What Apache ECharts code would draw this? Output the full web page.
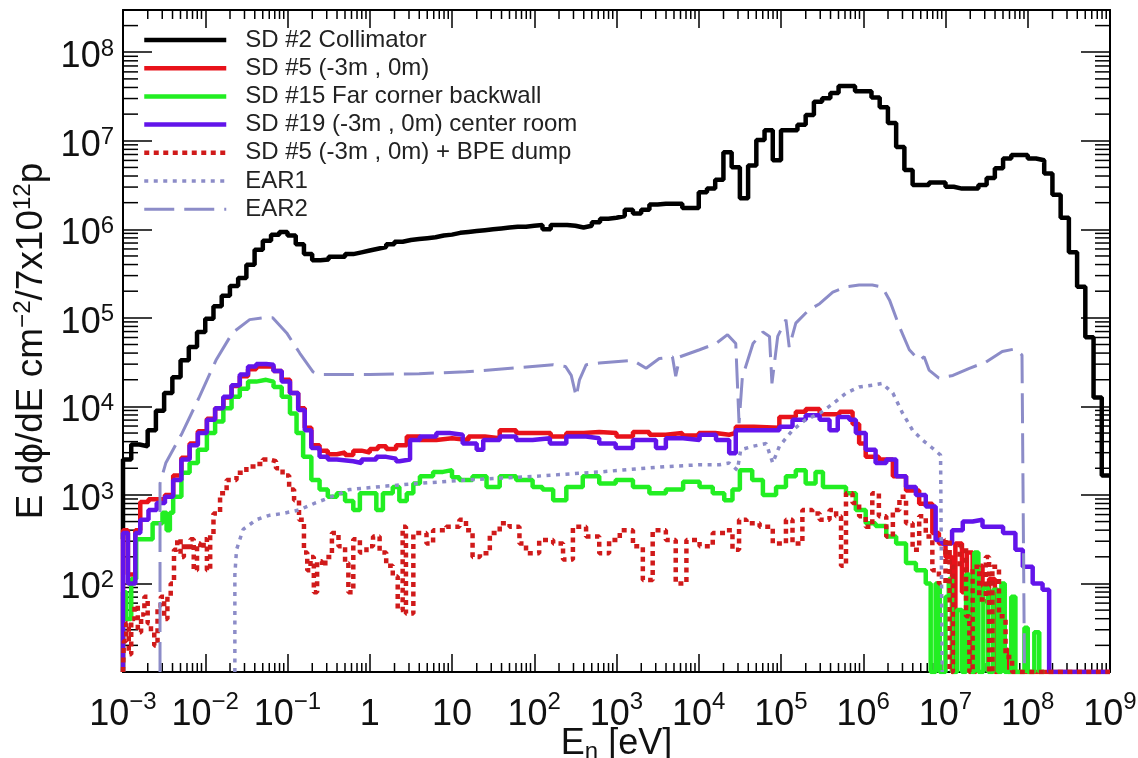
<!DOCTYPE html>
<html>
<head>
<meta charset="utf-8">
<script src="https://cdn.jsdelivr.net/npm/echarts@6/dist/echarts.min.js"></script>
<style>
  html, body { margin: 0; padding: 0; background: #fff; }
  #chart { width: 1138px; height: 758px; }
</style>
</head>
<body>
<div id="chart"></div>
<script>
// every point is [log10(E / eV), log10(flux)]
// histograms are drawn as steps starting at the bin's lower edge

const sd2Collimator = [
  [-3.0,2.50],[-3.0,3.40],[-2.9,3.57],[-2.8,3.55],[-2.7,3.73],[-2.6,3.95],[-2.5,4.15],[-2.4,4.33],
  [-2.3,4.52],[-2.2,4.67],[-2.1,4.84],[-2.0,4.99],[-1.9,5.13],[-1.8,5.25],[-1.7,5.36],[-1.6,5.45],
  [-1.5,5.60],[-1.4,5.77],[-1.3,5.87],[-1.2,5.94],[-1.1,5.97],[-1.0,5.93],[-0.9,5.83],[-0.8,5.72],
  [-0.7,5.65],[-0.6,5.66],[-0.5,5.69],[-0.4,5.69],[-0.3,5.72],[-0.2,5.74],[-0.1,5.76],[0.0,5.78],
  [0.1,5.80],[0.2,5.83],[0.3,5.86],[0.4,5.88],[0.5,5.89],[0.6,5.90],[0.7,5.91],[0.8,5.93],
  [0.9,5.94],[1.0,5.96],[1.1,5.97],[1.2,5.98],[1.3,5.99],[1.4,6.00],[1.5,6.01],[1.6,6.02],
  [1.7,6.03],[1.8,6.03],[1.9,6.04],[2.0,6.05],[2.1,6.00],[2.2,6.05],[2.3,6.05],[2.4,6.04],
  [2.5,6.02],[2.6,6.04],[2.7,6.08],[2.8,6.12],[2.9,6.13],[3.0,6.15],[3.1,6.22],[3.2,6.18],
  [3.3,6.22],[3.4,6.28],[3.5,6.29],[3.6,6.29],[3.7,6.29],[3.8,6.24],[3.9,6.24],[4.0,6.42],
  [4.1,6.46],[4.2,6.56],[4.3,6.87],[4.4,6.70],[4.5,6.35],[4.6,6.72],[4.7,7.01],[4.8,7.12],
  [4.9,6.78],[5.0,7.12],[5.1,7.12],[5.2,7.18],[5.3,7.29],[5.4,7.44],[5.5,7.48],[5.6,7.54],
  [5.7,7.62],[5.8,7.62],[5.9,7.56],[6.0,7.56],[6.1,7.49],[6.2,7.38],[6.3,7.20],[6.4,6.93],
  [6.5,6.67],[6.6,6.50],[6.7,6.50],[6.8,6.53],[6.9,6.53],[7.0,6.48],[7.1,6.46],[7.2,6.46],
  [7.3,6.46],[7.4,6.50],[7.5,6.58],[7.6,6.69],[7.7,6.80],[7.8,6.84],[7.9,6.84],[8.0,6.80],
  [8.1,6.78],[8.2,6.63],[8.3,6.39],[8.4,6.13],[8.5,5.74],[8.6,5.35],[8.7,4.78],[8.8,4.10],
  [8.9,3.22],[9.0,3.22]
];

const sd5 = [
  [-3.0,1.0],[-3.0,2.60],[-2.94,2.10],[-2.85,2.60],[-2.79,2.92],[-2.69,2.95],[-2.59,2.95],[-2.49,3.00],
  [-2.39,3.22],[-2.29,3.42],[-2.19,3.58],[-2.09,3.72],[-1.98,3.86],[-1.88,3.98],[-1.78,4.10],[-1.68,4.23],
  [-1.58,4.34],[-1.48,4.42],[-1.38,4.45],[-1.26,4.45],[-1.17,4.40],[-1.07,4.30],[-0.97,4.15],[-0.87,3.98],
  [-0.79,3.76],[-0.71,3.56],[-0.61,3.50],[-0.51,3.46],[-0.40,3.48],[-0.30,3.45],[-0.20,3.50],[-0.10,3.48],
  [0.0,3.52],[0.10,3.55],[0.20,3.52],[0.32,3.56],[0.45,3.66],[0.61,3.62],[0.81,3.64],[1.0,3.62],
  [1.2,3.66],[1.4,3.64],[1.58,3.73],[1.78,3.70],[2.0,3.70],[2.2,3.66],[2.39,3.70],[2.6,3.71],
  [2.79,3.70],[3.0,3.66],[3.2,3.71],[3.4,3.68],[3.6,3.70],[3.8,3.67],[4.0,3.70],[4.2,3.68],
  [4.37,3.70],[4.45,3.77],[4.67,3.76],[4.98,3.88],[5.18,3.94],[5.30,3.97],[5.47,3.91],[5.71,3.94],
  [5.87,3.80],[5.95,3.58],[6.03,3.43],[6.19,3.40],[6.36,3.21],[6.52,3.05],[6.68,2.90],[6.84,2.57],
  [6.92,2.45],[7.00,2.30],[7.08,1.0],[7.12,2.45],[7.20,1.90],[7.26,2.35],[7.33,1.0],[7.37,2.20],
  [7.45,1.80],[7.53,2.05],[7.60,1.0],[7.64,1.60],[7.72,1.25],[7.76,1.0],[9.0,1.0]
];

const sd15 = [
  [-3.0,1.0],[-3.0,1.90],[-2.96,1.60],[-2.90,2.05],[-2.84,2.50],[-2.64,2.68],[-2.52,2.80],[-2.47,2.60],
  [-2.43,2.80],[-2.39,2.98],[-2.29,3.25],[-2.19,3.36],[-2.09,3.51],[-1.98,3.70],[-1.88,3.83],[-1.78,3.98],
  [-1.68,4.11],[-1.58,4.20],[-1.48,4.28],[-1.38,4.30],[-1.26,4.28],[-1.17,4.22],[-1.07,4.11],[-0.97,3.92],
  [-0.89,3.70],[-0.81,3.43],[-0.71,3.17],[-0.61,3.06],[-0.51,2.98],[-0.40,3.02],[-0.30,2.93],[-0.20,2.83],
  [-0.12,3.02],[0.0,3.02],[0.08,2.83],[0.16,3.02],[0.28,3.09],[0.36,2.93],[0.45,3.02],[0.53,3.13],
  [0.61,3.21],[0.77,3.26],[0.89,3.28],[1.0,3.20],[1.09,3.17],[1.25,3.21],[1.42,3.09],[1.58,3.21],
  [1.78,3.17],[1.98,3.09],[2.10,3.06],[2.23,2.94],[2.39,3.09],[2.59,3.21],[2.79,3.13],[2.99,3.17],
  [3.20,3.09],[3.40,3.02],[3.60,3.06],[3.81,3.15],[4.01,3.09],[4.17,3.02],[4.31,2.94],[4.41,3.06],
  [4.50,3.28],[4.65,3.17],[4.78,3.00],[4.94,3.09],[5.06,3.21],[5.18,3.28],[5.30,3.13],[5.42,3.26],
  [5.51,3.09],[5.63,3.09],[5.79,3.02],[5.91,2.83],[6.03,2.68],[6.15,2.65],[6.28,2.53],[6.40,2.45],
  [6.52,2.23],[6.64,2.15],[6.76,2.00],[6.82,1.0],[6.88,2.00],[6.93,1.0],[7.00,1.85],[7.04,2.05],
  [7.08,1.0],[7.14,1.70],[7.20,1.0],[7.25,2.10],[7.29,1.0],[7.35,2.35],[7.40,1.0],[7.46,1.95],
  [7.52,1.0],[7.58,1.93],[7.64,1.0],[7.68,2.00],[7.72,1.0],[7.80,1.85],[7.85,1.0],[7.96,1.50],
  [8.00,1.0],[8.08,1.45],[8.14,1.0],[8.20,1.0]
];

const sd19 = [
  [-3.0,1.0],[-3.0,2.57],[-2.94,2.00],[-2.85,2.57],[-2.79,2.72],[-2.69,2.83],[-2.59,2.91],[-2.49,2.98],
  [-2.39,3.17],[-2.29,3.40],[-2.19,3.56],[-2.09,3.70],[-1.98,3.85],[-1.88,3.98],[-1.78,4.11],[-1.68,4.24],
  [-1.58,4.36],[-1.48,4.45],[-1.38,4.48],[-1.26,4.47],[-1.17,4.40],[-1.07,4.28],[-0.97,4.15],[-0.87,3.96],
  [-0.79,3.73],[-0.71,3.53],[-0.61,3.43],[-0.51,3.40],[-0.40,3.38],[-0.20,3.36],[-0.10,3.40],[0.08,3.43],
  [0.20,3.41],[0.32,3.38],[0.36,3.40],[0.49,3.62],[0.61,3.66],[0.81,3.70],[0.97,3.68],[1.13,3.58],
  [1.30,3.51],[1.38,3.62],[1.58,3.66],[1.78,3.62],[1.98,3.64],[2.19,3.58],[2.39,3.66],[2.63,3.64],
  [2.79,3.58],[2.99,3.53],[3.20,3.62],[3.36,3.62],[3.48,3.53],[3.60,3.64],[3.81,3.62],[4.01,3.68],
  [4.21,3.62],[4.37,3.47],[4.45,3.73],[4.98,3.77],[5.14,3.85],[5.30,3.90],[5.47,3.85],[5.59,3.73],
  [5.69,3.88],[5.83,3.85],[5.91,3.70],[6.03,3.51],[6.15,3.36],[6.28,3.40],[6.40,3.21],[6.52,3.09],
  [6.64,3.00],[6.76,2.87],[6.88,2.49],[6.96,2.45],[7.08,2.60],[7.21,2.70],[7.33,2.72],[7.45,2.64],
  [7.61,2.64],[7.70,2.57],[7.85,2.38],[7.94,2.19],[8.06,2.00],[8.18,1.93],[8.26,1.0],[9.0,1.0]
];

const sd5Bpe = [
  [-3.0,1.0],[-2.99,1.35],[-2.96,1.55],[-2.93,1.20],[-2.90,1.60],[-2.86,1.75],[-2.82,1.45],[-2.78,1.65],
  [-2.74,1.85],[-2.70,1.55],[-2.66,1.45],[-2.62,1.30],[-2.58,1.75],[-2.54,1.85],[-2.50,1.60],[-2.46,1.85],
  [-2.42,2.00],[-2.38,2.38],[-2.34,2.50],[-2.30,2.30],[-2.26,2.45],[-2.22,2.38],[-2.18,2.50],[-2.14,2.15],
  [-2.10,2.45],[-2.06,2.40],[-2.02,2.50],[-1.98,2.15],[-1.94,2.55],[-1.90,2.79],[-1.82,3.02],[-1.74,3.17],
  [-1.62,3.25],[-1.50,3.32],[-1.38,3.35],[-1.30,3.40],[-1.22,3.38],[-1.14,3.30],[-1.06,3.22],[-0.98,3.06],
  [-0.92,2.94],[-0.86,2.72],[-0.80,2.35],[-0.76,2.15],[-0.72,2.30],[-0.68,1.90],[-0.64,2.25],[-0.58,2.20],
  [-0.54,2.30],[-0.46,2.57],[-0.38,2.42],[-0.30,2.23],[-0.26,1.90],[-0.20,2.50],[-0.12,2.35],[-0.04,2.42],
  [0.04,2.53],[0.12,2.35],[0.20,2.20],[0.28,2.08],[0.34,1.70],[0.40,2.64],[0.44,1.66],[0.53,2.57],
  [0.69,2.45],[0.77,2.60],[0.93,2.64],[1.09,2.72],[1.17,2.60],[1.25,2.30],[1.34,2.34],[1.46,2.57],
  [1.58,2.68],[1.70,2.64],[1.82,2.45],[1.90,2.34],[2.06,2.49],[2.23,2.45],[2.35,2.27],[2.47,2.64],
  [2.63,2.53],[2.79,2.34],[2.91,2.49],[3.04,2.60],[3.20,2.42],[3.32,2.04],[3.44,2.60],[3.60,2.49],
  [3.72,2.00],[3.85,2.49],[4.01,2.42],[4.17,2.57],[4.33,2.60],[4.41,2.38],[4.49,2.72],[4.58,2.68],
  [4.74,2.64],[4.90,2.45],[5.06,2.72],[5.14,2.45],[5.26,2.83],[5.38,2.79],[5.47,2.72],[5.59,2.83],
  [5.67,2.76],[5.73,2.20],[5.79,3.02],[5.87,2.91],[5.95,2.76],[6.03,2.64],[6.11,3.02],[6.19,2.76],
  [6.28,2.53],[6.36,2.83],[6.44,2.98],[6.52,2.68],[6.60,2.38],[6.68,2.76],[6.76,2.53],[6.84,2.15],
  [6.92,2.00],[7.00,2.49],[7.05,1.0],[7.09,2.19],[7.17,2.42],[7.25,1.63],[7.29,1.0],[7.33,2.19],
  [7.41,1.82],[7.49,2.30],[7.53,1.0],[7.57,2.19],[7.65,1.63],[7.73,1.17],[7.81,1.0],[9.0,1.0]
];

const ear1 = [
  [-1.64,1.0],[-1.64,2.10],[-1.62,2.38],[-1.54,2.61],[-1.38,2.72],[-1.22,2.77],[-1.06,2.79],[-0.86,2.83],
  [-0.66,2.91],[-0.46,2.98],[-0.25,3.06],[0.2,3.10],[0.6,3.13],[1.2,3.17],[2.0,3.21],[2.8,3.26],
  [3.6,3.32],[4.0,3.34],[4.25,3.34],[4.37,3.36],[4.47,3.28],[4.51,3.51],[4.66,3.55],[4.82,3.58],
  [4.90,3.36],[4.98,3.55],[5.14,3.73],[5.30,3.85],[5.47,3.92],[5.63,4.03],[5.79,4.15],[5.95,4.22],
  [6.11,4.24],[6.23,4.26],[6.36,4.15],[6.48,3.92],[6.60,3.73],[6.72,3.62],[6.84,3.53],[6.94,3.45],
  [6.96,1.0]
];

const ear2 = [
  [-2.55,1.0],[-2.55,3.13],[-2.48,3.36],[-2.28,3.70],[-2.07,4.11],[-1.87,4.52],[-1.67,4.83],[-1.46,4.98],
  [-1.30,5.00],[-1.18,5.00],[-1.01,4.83],[-0.85,4.60],[-0.69,4.39],[-0.61,4.36],[0.0,4.36],[0.6,4.37],
  [1.17,4.39],[2.23,4.47],[2.38,4.45],[2.45,4.35],[2.51,4.11],[2.55,4.30],[2.63,4.47],[2.79,4.49],
  [3.20,4.52],[3.36,4.43],[3.52,4.54],[3.68,4.56],[3.72,4.34],[3.77,4.56],[4.01,4.64],[4.21,4.71],
  [4.35,4.81],[4.45,4.71],[4.49,3.81],[4.53,4.33],[4.66,4.71],[4.78,4.84],[4.86,4.79],[4.89,4.26],
  [4.96,4.79],[5.06,4.98],[5.10,4.67],[5.18,4.94],[5.34,5.09],[5.47,5.16],[5.63,5.29],[5.79,5.35],
  [5.95,5.37],[6.11,5.37],[6.23,5.35],[6.32,5.20],[6.44,4.90],[6.56,4.64],[6.68,4.52],[6.74,4.56],
  [6.80,4.41],[6.92,4.32],[7.09,4.35],[7.29,4.43],[7.49,4.50],[7.69,4.62],[7.85,4.65],[7.93,4.58],
  [7.96,1.0]
];

const seriesNames = [
  'SD #2 Collimator',
  'SD #5 (-3m , 0m)',
  'SD #15 Far corner backwall',
  'SD #19 (-3m , 0m) center room',
  'SD #5 (-3m , 0m) + BPE dump',
  'EAR1',
  'EAR2'
];

const xMin = 1e-3, xMax = 1e9;
const yMin = 10, yMax = 3e8;
const minorMantissas = [2, 3, 4, 5, 6, 7, 8, 9];
const xDecades = [-3, -2, -1, 0, 1, 2, 3, 4, 5, 6, 7, 8];
const yDecades = [1, 2, 3, 4, 5, 6, 7, 8];

const FONT = '"Liberation Sans", Arial, Helvetica, sans-serif';

// line looks, shared by the series and their legend entries
const looks = [
  { color: '#000000', width: 4.5, type: 'solid' },
  { color: '#e8121a', width: 4.5, type: 'solid' },
  { color: '#22ee22', width: 4.5, type: 'solid' },
  { color: '#6214ea', width: 4.5, type: 'solid' },
  { color: '#d01a1a', width: 4.5, type: [5, 4.5] },
  { color: '#8c8cc8', width: 3.5, type: [4, 5.5] },
  { color: '#8c8cc8', width: 3, type: [30, 10] }
];

function toPoints(arr) {
  return arr.map(p => [Math.pow(10, p[0]), Math.pow(10, p[1])]);
}

function powLabel(v, hideTen) {
  const e = Math.log10(v);
  const n = Math.round(e);
  if (Math.abs(e - n) > 1e-6) return '';
  if (n === 1 && hideTen) return '';
  if (n === 0) return '{b|1}';
  if (n === 1) return '{b|10}';
  return '{b|10}{sup|' + String(n).replace('-', '\u2212') + '}';
}

const xMinor = [];
xDecades.forEach(d => minorMantissas.forEach(m => xMinor.push([m * Math.pow(10, d), yMin])));
const yMinor = [];
yDecades.forEach(d => minorMantissas.forEach(m => {
  const v = m * Math.pow(10, d);
  if (v < yMax) yMinor.push([xMin, v]);
}));

function histSeries(i, data, stepped) {
  const lk = looks[i];
  return {
    name: seriesNames[i],
    type: 'line',
    step: stepped ? 'end' : false,
    data: toPoints(data),
    symbol: 'none',
    lineStyle: { color: lk.color, width: lk.width, type: lk.type, cap: 'butt' },
    itemStyle: { color: lk.color },
    emphasis: { disabled: true }
  };
}

const tickStyle = { color: '#000', width: 1.5 };

const chart = echarts.init(document.getElementById('chart'));
chart.setOption({
  animation: false,
  backgroundColor: '#fff',
  textStyle: { fontFamily: FONT },
  grid: { left: 123, right: 28, top: 10, bottom: 86, outerBoundsMode: 'none', containLabel: false },
  legend: {
    data: seriesNames.map((n, i) => ({
      name: n,
      lineStyle: { color: looks[i].color, width: looks[i].width, type: looks[i].type, cap: 'butt' },
      itemStyle: { opacity: 0 }
    })),
    orient: 'vertical',
    left: 137,
    top: 23,
    itemWidth: 82,
    itemHeight: 14,
    itemGap: 4.2,
    selectedMode: false,
    textStyle: { fontFamily: FONT, fontSize: 24, lineHeight: 24, color: '#222', padding: [0, 0, 0, 14] }
  },
  xAxis: [{
    type: 'log',
    min: xMin,
    max: xMax,
    interval: 1,
    name: 'E{sub|n} [eV]',
    nameLocation: 'middle',
    nameGap: 52,
    nameMoveOverlap: false,
    nameTextStyle: {
      fontFamily: FONT, fontSize: 36, color: '#111', lineHeight: 40,
      rich: { sub: { fontFamily: FONT, fontSize: 24, lineHeight: 18, verticalAlign: 'bottom', color: '#111' } }
    },
    axisLine: { lineStyle: { color: '#000', width: 2 } },
    axisTick: { inside: true, length: 18, lineStyle: tickStyle },
    splitLine: { show: false },
    axisLabel: {
      margin: 18,
      formatter: v => powLabel(v, false),
      rich: {
        b: { fontFamily: FONT, fontSize: 36, lineHeight: 50, color: '#111' },
        sup: { fontFamily: FONT, fontSize: 24, lineHeight: 16, verticalAlign: 'top', color: '#111' }
      }
    }
  }, {
    type: 'log',
    position: 'top',
    min: xMin,
    max: xMax,
    interval: 1,
    axisLine: { lineStyle: { color: '#000', width: 2 } },
    axisTick: { inside: true, length: 18, lineStyle: tickStyle },
    axisLabel: { show: false },
    splitLine: { show: false }
  }],
  yAxis: [{
    type: 'log',
    min: yMin,
    max: yMax,
    interval: 1,
    name: 'E d\u03d5/dE cm{sup|\u22122}/7x10{sup|12}p',
    nameLocation: 'middle',
    nameRotate: 90,
    nameGap: 70,
    nameMoveOverlap: false,
    nameTextStyle: {
      fontFamily: FONT, fontSize: 37, color: '#111', lineHeight: 42,
      rich: { sup: { fontFamily: FONT, fontSize: 24, lineHeight: 16, verticalAlign: 'top', color: '#111' } }
    },
    axisLine: { lineStyle: { color: '#000', width: 2 } },
    axisTick: { inside: true, length: 29, lineStyle: tickStyle },
    splitLine: { show: false },
    axisLabel: {
      margin: 9,
      padding: [10, 0, 0, 0],
      formatter: v => powLabel(v, true),
      rich: {
        b: { fontFamily: FONT, fontSize: 36, lineHeight: 40, color: '#111' },
        sup: { fontFamily: FONT, fontSize: 24, lineHeight: 20, verticalAlign: 'top', color: '#111' }
      }
    }
  }, {
    type: 'log',
    position: 'right',
    min: yMin,
    max: yMax,
    interval: 1,
    axisLine: { lineStyle: { color: '#000', width: 2 } },
    axisTick: { inside: true, length: 29, lineStyle: tickStyle },
    axisLabel: { show: false },
    splitLine: { show: false }
  }],
  series: [
    histSeries(0, sd2Collimator, true),
    histSeries(1, sd5, true),
    histSeries(2, sd15, true),
    histSeries(3, sd19, true),
    histSeries(4, sd5Bpe, true),
    histSeries(5, ear1, false),
    histSeries(6, ear2, false),
    {
      // minor ticks of the log x axis, bottom and top
      type: 'custom',
      silent: true,
      data: xMinor,
      renderItem: (params, api) => {
        const v = api.value(0);
        const b = api.coord([v, yMin]);
        const t = api.coord([v, yMax]);
        return {
          type: 'group',
          children: [
            { type: 'line', shape: { x1: b[0], y1: b[1], x2: b[0], y2: b[1] - 9 }, style: { stroke: '#000', lineWidth: 1.5 } },
            { type: 'line', shape: { x1: t[0], y1: t[1], x2: t[0], y2: t[1] + 9 }, style: { stroke: '#000', lineWidth: 1.5 } }
          ]
        };
      }
    },
    {
      // minor ticks of the log y axis, left and right
      type: 'custom',
      silent: true,
      data: yMinor,
      renderItem: (params, api) => {
        const v = api.value(1);
        const l = api.coord([xMin, v]);
        const r = api.coord([xMax, v]);
        return {
          type: 'group',
          children: [
            { type: 'line', shape: { x1: l[0], y1: l[1], x2: l[0] + 15, y2: l[1] }, style: { stroke: '#000', lineWidth: 1.5 } },
            { type: 'line', shape: { x1: r[0], y1: r[1], x2: r[0] - 15, y2: r[1] }, style: { stroke: '#000', lineWidth: 1.5 } }
          ]
        };
      }
    }
  ]
});
</script>
</body>
</html>
